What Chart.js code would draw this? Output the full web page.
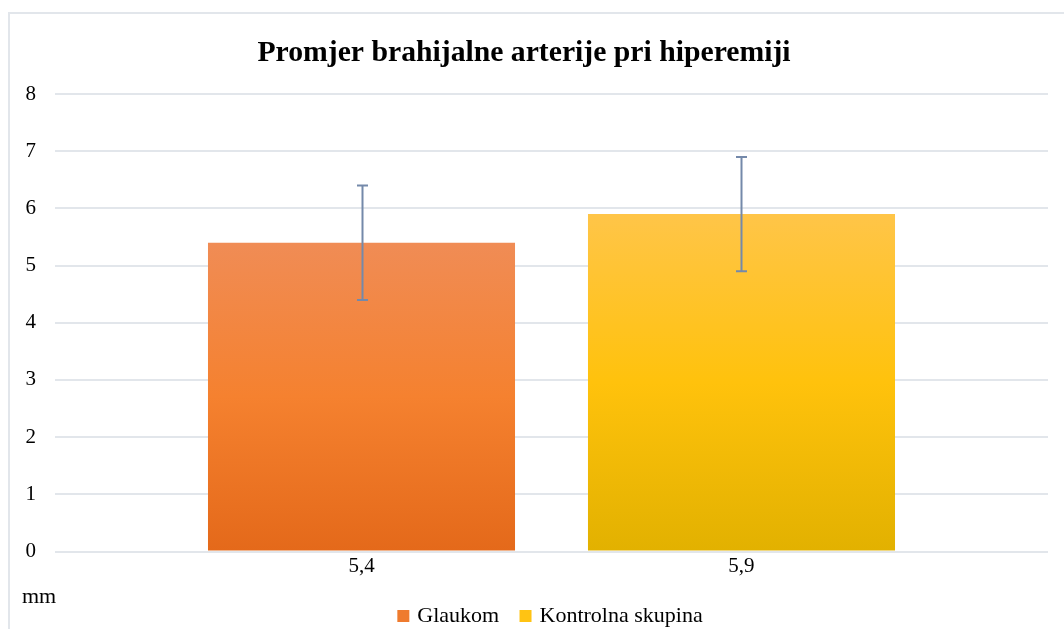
<!DOCTYPE html>
<html>
<head>
<meta charset="utf-8">
<title>Promjer brahijalne arterije pri hiperemiji</title>
<script src="https://cdn.jsdelivr.net/npm/chart.js@4/dist/chart.umd.min.js"></script>
<style>
  html, body { margin: 0; padding: 0; background: #fff; }
  #wrap { position: relative; width: 1064px; height: 629px; overflow: hidden; }
  #frame {
    position: absolute; left: 8px; top: 12px; right: -4px; bottom: -4px;
    border-left: 2px solid #e2e6eb; border-top: 2px solid #e2e6eb;
  }
  #chart { position: absolute; left: 0; top: 0; }
</style>
</head>
<body>
<div id="wrap">
  <div id="frame"></div>
  <canvas id="chart" width="1064" height="629"></canvas>
</div>
<script>
/* ── DATA ─────────────────────────────────────────────────── */
const categories = ['5,4', '5,9'];
const glaukom    = [5.4, null];
const kontrolna  = [null, 5.9];
const errors     = [1, 1];          // ± standardna devijacija
const yTicks     = [0, 1, 2, 3, 4, 5, 6, 7, 8];
const unitLabel  = 'mm';

const FONT = "'Liberation Serif', 'Times New Roman', serif";

/* ── HELPERS ──────────────────────────────────────────────── */
// bars sit on a linear x scale at positions 1..n
function toPoints(values) {
  return values
    .map((v, i) => ({ x: i + 1, y: v }))
    .filter(p => p.y !== null);
}

function barGradient(stops) {
  return ctx => {
    const chart = ctx.chart;
    if (!chart.chartArea || !ctx.parsed) return stops[1];
    const y = chart.scales.y;
    const top = y.getPixelForValue(ctx.parsed.y);
    const bottom = y.getPixelForValue(0);
    const g = chart.ctx.createLinearGradient(0, top, 0, bottom);
    g.addColorStop(0, stops[0]);
    g.addColorStop(0.5, stops[1]);
    g.addColorStop(1, stops[2]);
    return g;
  };
}

const orange = ['#f08c55', '#f5812f', '#e4691a'];
const yellow = ['#ffc548', '#ffc20c', '#e2b100'];
const legendColors = ['#ef7b2e', '#ffc313'];

/* ── PLUGINS ──────────────────────────────────────────────── */
const errorBars = {
  id: 'errorBars',
  afterDatasetsDraw(chart) {
    const { ctx } = chart;
    const y = chart.scales.y;
    ctx.save();
    ctx.strokeStyle = '#7489aa';
    ctx.lineWidth = 2;
    chart.data.datasets.forEach((ds, di) => {
      const meta = chart.getDatasetMeta(di);
      meta.data.forEach((bar, j) => {
        const p = ds.data[j];
        const err = errors[p.x - 1];
        const hi = y.getPixelForValue(p.y + err);
        const lo = y.getPixelForValue(p.y - err);
        const x = Math.round(bar.x) + 0.5;
        ctx.beginPath();
        ctx.moveTo(x, hi); ctx.lineTo(x, lo);
        ctx.moveTo(x - 5.5, hi); ctx.lineTo(x + 5.5, hi);
        ctx.moveTo(x - 5.5, lo); ctx.lineTo(x + 5.5, lo);
        ctx.stroke();
      });
    });
    ctx.restore();
  }
};

const unitText = {
  id: 'unitText',
  afterDraw(chart) {
    const { ctx, chartArea } = chart;
    ctx.save();
    ctx.font = '22px ' + FONT;
    ctx.fillStyle = '#000';
    ctx.textBaseline = 'alphabetic';
    ctx.fillText(unitLabel, 22, chartArea.bottom + 51);
    ctx.restore();
  }
};

/* ── CHART ────────────────────────────────────────────────── */
new Chart(document.getElementById('chart'), {
  type: 'bar',
  data: {
    datasets: [
      {
        label: 'Glaukom',
        data: toPoints(glaukom),
        backgroundColor: barGradient(orange),
        grouped: false,
        barPercentage: 0.808,
        categoryPercentage: 1,
      },
      {
        label: 'Kontrolna skupina',
        data: toPoints(kontrolna),
        backgroundColor: barGradient(yellow),
        grouped: false,
        barPercentage: 0.808,
        categoryPercentage: 1,
      },
    ],
  },
  options: {
    responsive: false,
    animation: false,
    devicePixelRatio: 1,
    layout: { padding: { left: 0, right: 16, top: 0, bottom: -8 } },
    plugins: {
      title: {
        display: true,
        text: 'Promjer brahijalne arterije pri hiperemiji',
        color: '#000',
        font: { family: FONT, size: 29.7, weight: 'bold', lineHeight: 1.2 },
        padding: { top: 35.6, bottom: 22.8 },
      },
      legend: {
        position: 'bottom',
        fullSize: false,
        labels: {
          color: '#000',
          font: { family: FONT, size: 22 },
          usePointStyle: true,
          pointStyle: 'rect',
          boxWidth: 6,
          boxHeight: 12,
          padding: 23.3,
          generateLabels(chart) {
            const items = Chart.defaults.plugins.legend.labels.generateLabels(chart);
            items.forEach((it, i) => {
              it.fillStyle = legendColors[i];
              it.strokeStyle = legendColors[i];
              it.lineWidth = 0;
            });
            return items;
          },
        },
      },
      tooltip: { enabled: false },
    },
    scales: {
      x: {
        type: 'linear',
        offset: false,
        min: 1 - 0.8066,
        max: categories.length + 0.8066,
        grid: { display: false, offset: false, tickLength: 0 },
        border: { display: false },
        afterBuildTicks: scale => {
          scale.ticks = categories.map((c, i) => ({ value: i + 1 }));
        },
        ticks: {
          color: '#000',
          font: { family: FONT, size: 21 },
          padding: 2.5,
          maxRotation: 0,
          callback: v => categories[v - 1],
        },
      },
      y: {
        min: yTicks[0],
        max: yTicks[yTicks.length - 1],
        afterFit: scale => { scale.width = 55; },
        afterBuildTicks: scale => {
          scale.ticks = yTicks.map(v => ({ value: v }));
        },
        grid: { color: '#e2e6eb', lineWidth: 2, drawTicks: false },
        border: { display: false },
        ticks: {
          color: '#000',
          font: { family: FONT, size: 21 },
          padding: 19,
        },
      },
    },
  },
  plugins: [errorBars, unitText],
});
</script>
</body>
</html>
